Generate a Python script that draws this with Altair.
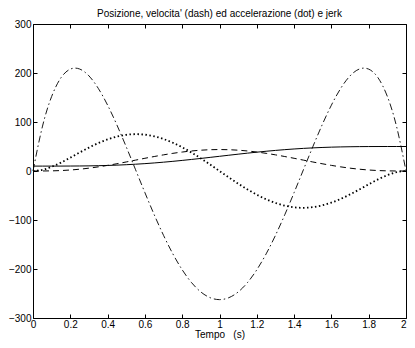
import altair as alt
import pandas as pd

tempo = [0.0, 0.05, 0.1, 0.15, 0.2, 0.25, 0.3, 0.35, 0.4, 0.45, 0.5, 0.55, 0.6, 0.65, 0.7,
         0.75, 0.8, 0.85, 0.9, 0.95, 1.0, 1.05, 1.1, 1.15, 1.2, 1.25, 1.3, 1.35, 1.4, 1.45,
         1.5, 1.55, 1.6, 1.65, 1.7, 1.75, 1.8, 1.85, 1.9, 1.95, 2.0]
posizione = [10.0, 10.0, 10.01, 10.04, 10.11, 10.25, 10.48, 10.84, 11.33, 11.99, 12.82,
             13.84, 15.04, 16.43, 17.99, 19.72, 21.59, 23.58, 25.67, 27.82, 30.0, 32.18,
             34.33, 36.42, 38.41, 40.28, 42.01, 43.57, 44.96, 46.16, 47.18, 48.01, 48.67,
             49.16, 49.52, 49.75, 49.89, 49.96, 49.99, 50.0, 50.0]
velocita = [0.0, 0.04, 0.30, 0.93, 2.04, 3.66, 5.80, 8.43, 11.47, 14.85, 18.46, 22.19,
            25.93, 29.56, 32.97, 36.05, 38.71, 40.86, 42.45, 43.42, 43.75, 43.42, 42.45,
            40.86, 38.71, 36.05, 32.97, 29.56, 25.93, 22.19, 18.46, 14.85, 11.47, 8.43,
            5.80, 3.66, 2.04, 0.93, 0.30, 0.04, 0.0]
accelerazione = [0.0, 2.37, 8.53, 17.18, 27.22, 37.68, 47.79, 56.90, 64.51, 70.24, 73.83,
                 75.13, 74.09, 70.74, 65.21, 57.68, 48.38, 37.62, 25.73, 13.06, 0.0, -13.06,
                 -25.73, -37.62, -48.38, -57.68, -65.21, -70.74, -74.09, -75.13, -73.83,
                 -70.24, -64.51, -56.90, -47.79, -37.68, -27.22, -17.18, -8.53, -2.37, 0.0]
jerk = [0.0, 89.90, 152.12, 190.30, 207.90, 208.15, 194.12, 168.65, 134.40, 93.84, 49.22,
        2.62, -44.10, -89.26, -131.38, -169.19, -201.60, -227.73, -246.88, -258.57, -262.5,
        -258.57, -246.88, -227.73, -201.60, -169.19, -131.38, -89.26, -44.10, 2.62, 49.22,
        93.84, 134.40, 168.65, 194.12, 208.15, 207.90, 190.30, 152.12, 89.90, 0.0]

x_ticks = [0, 0.2, 0.4, 0.6, 0.8, 1.0, 1.2, 1.4, 1.6, 1.8, 2.0]
y_ticks = [-300, -200, -100, 0, 100, 200, 300]

df = pd.DataFrame({"t": tempo, "pos": posizione, "vel": velocita,
                   "acc": accelerazione, "jerk": jerk})

FONT = "Liberation Sans"
xscale = alt.Scale(domain=[0, 2], nice=False, zero=False)
yscale = alt.Scale(domain=[-300, 300], nice=False, zero=False)

minus_expr = "datum.value < 0 ? '\u2212' + format(-datum.value, 'd') : format(datum.value, 'd')"

x_bottom = alt.Axis(values=x_ticks, format=".1~f", title="Tempo\u00a0\u00a0\u00a0(s)",
                    grid=False, domain=False, offset=-4, tickSize=4, tickColor="black",
                    tickWidth=1, labelPadding=1, labelFont=FONT, labelFontSize=10,
                    labelColor="black",
                    labelAlign={"condition": {"test": "datum.value >= 2", "value": "right"},
                                "value": "center"},
                    titleFont=FONT, titleFontSize=10, titleFontWeight="normal",
                    titleColor="black", titlePadding=0, labelFlush=False)
y_left = alt.Axis(values=y_ticks, labelExpr=minus_expr, title=None, grid=False,
                  domain=False, offset=-4, tickSize=4, tickColor="black", tickWidth=1,
                  labelPadding=2, labelFont=FONT, labelFontSize=10, labelColor="black",
                  labelFlush=False)
x_top = alt.Axis(values=x_ticks, orient="top", labels=False, title=None, grid=False,
                 domain=False, offset=-4, tickSize=4, tickColor="black", tickWidth=1)
y_right = alt.Axis(values=y_ticks, orient="right", labels=False, title=None, grid=False,
                   domain=False, offset=-4, tickSize=4, tickColor="black", tickWidth=1)

base = alt.Chart(df)

l_pos = base.mark_line(color="black", strokeWidth=1, interpolate="natural").encode(
    x=alt.X("t:Q", scale=xscale, axis=x_bottom),
    y=alt.Y("pos:Q", scale=yscale, axis=y_left),
)
l_vel = base.mark_line(color="black", strokeWidth=1, strokeDash=[6, 4],
                       interpolate="natural").encode(
    x=alt.X("t:Q", scale=xscale, axis=None),
    y=alt.Y("vel:Q", scale=yscale, axis=None),
)
l_acc = base.mark_line(color="black", strokeWidth=1.8, strokeDash=[1.5, 2.5],
                       interpolate="natural").encode(
    x=alt.X("t:Q", scale=xscale, axis=None),
    y=alt.Y("acc:Q", scale=yscale, axis=None),
)
l_jerk = base.mark_line(color="black", strokeWidth=0.9, strokeDash=[7, 3, 1.5, 3],
                        interpolate="natural").encode(
    x=alt.X("t:Q", scale=xscale, axis=x_top),
    y=alt.Y("jerk:Q", scale=yscale, axis=y_right),
)

chart = alt.layer(l_pos, l_vel, l_acc, l_jerk).resolve_axis(
    x="independent", y="independent"
).properties(
    width=373,
    height=294,
    autosize=alt.AutoSizeParams(type="none"),
    padding={"left": 25, "top": 16, "right": 1, "bottom": 22},
    background="white",
    title=alt.TitleParams("Posizione, velocita' (dash) ed accelerazione (dot) e jerk",
                          font=FONT, fontSize=10, fontWeight="normal", color="black",
                          anchor="middle", offset=0),
).configure_view(stroke="black", strokeWidth=1)

chart.save("out.html", embed_options={"renderer": "svg", "actions": False})
